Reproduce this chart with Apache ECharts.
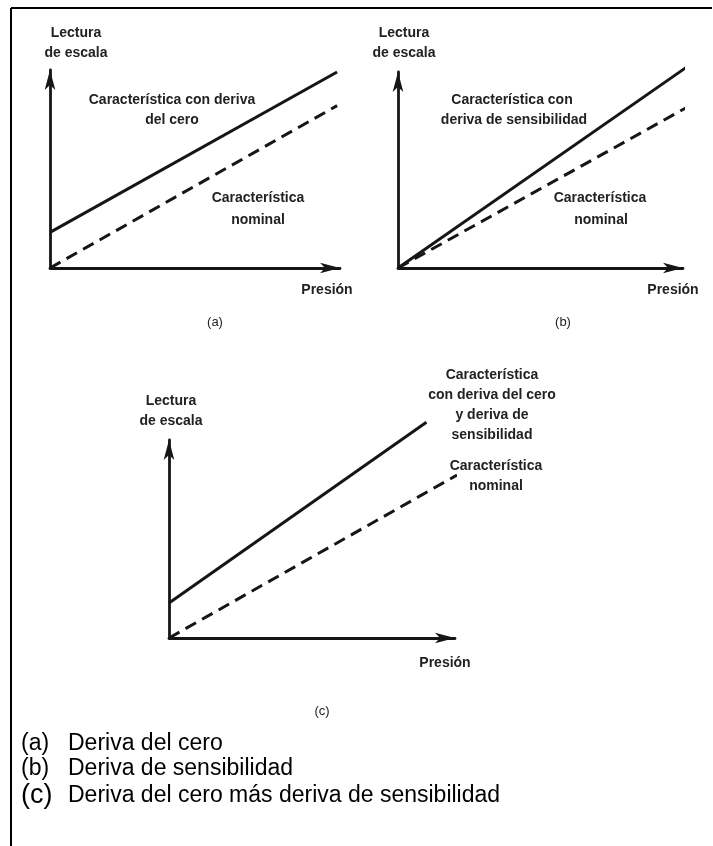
<!DOCTYPE html>
<html><head><meta charset="utf-8">
<script src="https://cdn.jsdelivr.net/npm/echarts@6/dist/echarts.min.js"></script>
<style>html,body{margin:0;padding:0;background:#fff}#c{width:713px;height:846px}</style>
</head><body><div id="c"></div>
<script>
// Panel (a): deriva del cero
const aPressure = [0, 9.9];
const aNominal = [0, 8.2];
const aZeroDrift = [1.8, 9.9];
// Panel (b): deriva de sensibilidad
const bPressure = [0, 10.14];
const bNominal = [0, 8.2];
const bSensDrift = [0, 10.26];
// Panel (c): ambas
const cPressureDrift = [0, 9.0];
const cBothDrift = [1.77, 10.9];
const cPressureNominal = [0, 10.07];
const cNominal = [0, 8.23];

const zip = (xs, ys) => xs.map((x, i) => [x, ys[i]]);
const INK = '#161616';
const PANEL_FONT = 'bold 14px "Liberation Sans", Arial, sans-serif';

function axis(gridIndex) {
  return {
    type: 'value', gridIndex, min: 0, max: 10,
    axisLabel: {show: false}, axisTick: {show: false}, splitLine: {show: false},
    axisLine: {show: true, symbol: ['none', 'arrow'], symbolSize: [8, 20],
      lineStyle: {color: INK, width: 2.8}}
  };
}
function line(idx, data, dashed) {
  return {
    type: 'line', xAxisIndex: idx, yAxisIndex: idx, data, showSymbol: false,
    clip: false, silent: true, animation: false,
    lineStyle: {color: INK, width: 3, type: dashed ? [12, 7] : 'solid', cap: 'butt'}
  };
}
function txt(text, x, y, font) {
  return {type: 'text', x, y, silent: true,
    style: {text, font: font || PANEL_FONT, fill: '#222', textAlign: 'center', textVerticalAlign: 'middle', align: 'center', verticalAlign: 'middle'}};
}
function ltxt(text, x, y, font) {
  return {type: 'text', x, y, silent: true,
    style: {text, font, fill: '#000', textAlign: 'left', textVerticalAlign: 'middle', align: 'left', verticalAlign: 'middle'}};
}

const chart = echarts.init(document.getElementById('c'), null, {renderer: 'canvas'});
const LIST_FONT = '23px "Liberation Sans", Arial, sans-serif';
const LIST_FONT_BIG = '27px "Liberation Sans", Arial, sans-serif';
const CAP_FONT = '13px "Liberation Sans", Arial, sans-serif';
chart.setOption({
  animation: false,
  backgroundColor: '#fff',
  grid: [
    {left: 50, top: 70, width: 290, height: 198},
    {left: 398, top: 72, width: 285, height: 196},
    {left: 169, top: 440, width: 286, height: 198}
  ],
  xAxis: [axis(0), axis(1), axis(2)],
  yAxis: [axis(0), axis(1), axis(2)],
  series: [
    line(0, zip(aPressure, aZeroDrift), false),
    line(0, zip(aPressure, aNominal), true),
    line(1, zip(bPressure, bSensDrift), false),
    line(1, zip(bPressure, bNominal), true),
    line(2, zip(cPressureDrift, cBothDrift), false),
    line(2, zip(cPressureNominal, cNominal), true)
  ],
  graphic: [
    {type: 'line', silent: true, shape: {x1: 11, y1: 8, x2: 11, y2: 846}, style: {stroke: '#000', lineWidth: 2}},
    {type: 'line', silent: true, shape: {x1: 11, y1: 8, x2: 712, y2: 8}, style: {stroke: '#000', lineWidth: 2}},
    // panel a
    txt('Lectura', 76, 33), txt('de escala', 76, 53),
    txt('Característica con deriva', 172, 100), txt('del cero', 172, 120),
    txt('Característica', 258, 198), txt('nominal', 258, 220),
    txt('Presión', 327, 290),
    txt('(a)', 215, 322, CAP_FONT),
    // panel b
    txt('Lectura', 404, 33), txt('de escala', 404, 53),
    txt('Característica con', 512, 100), txt('deriva de sensibilidad', 514, 120),
    txt('Característica', 600, 198), txt('nominal', 601, 220),
    txt('Presión', 673, 290),
    txt('(b)', 563, 322, CAP_FONT),
    // panel c
    txt('Lectura', 171, 401), txt('de escala', 171, 421),
    txt('Característica', 492, 375), txt('con deriva del cero', 492, 395),
    txt('y deriva de', 492, 415), txt('sensibilidad', 492, 435),
    txt('Característica', 496, 466), txt('nominal', 496, 486),
    txt('Presión', 445, 663),
    txt('(c)', 322, 711, CAP_FONT),
    // list
    ltxt('(a)', 21, 744, LIST_FONT), ltxt('Deriva del cero', 68, 744, LIST_FONT),
    ltxt('(b)', 21, 769, LIST_FONT), ltxt('Deriva de sensibilidad', 68, 769, LIST_FONT),
    ltxt('(c)', 21, 796, LIST_FONT_BIG), ltxt('Deriva del cero más deriva de sensibilidad', 68, 796, LIST_FONT)
  ]
});
</script></body></html>
